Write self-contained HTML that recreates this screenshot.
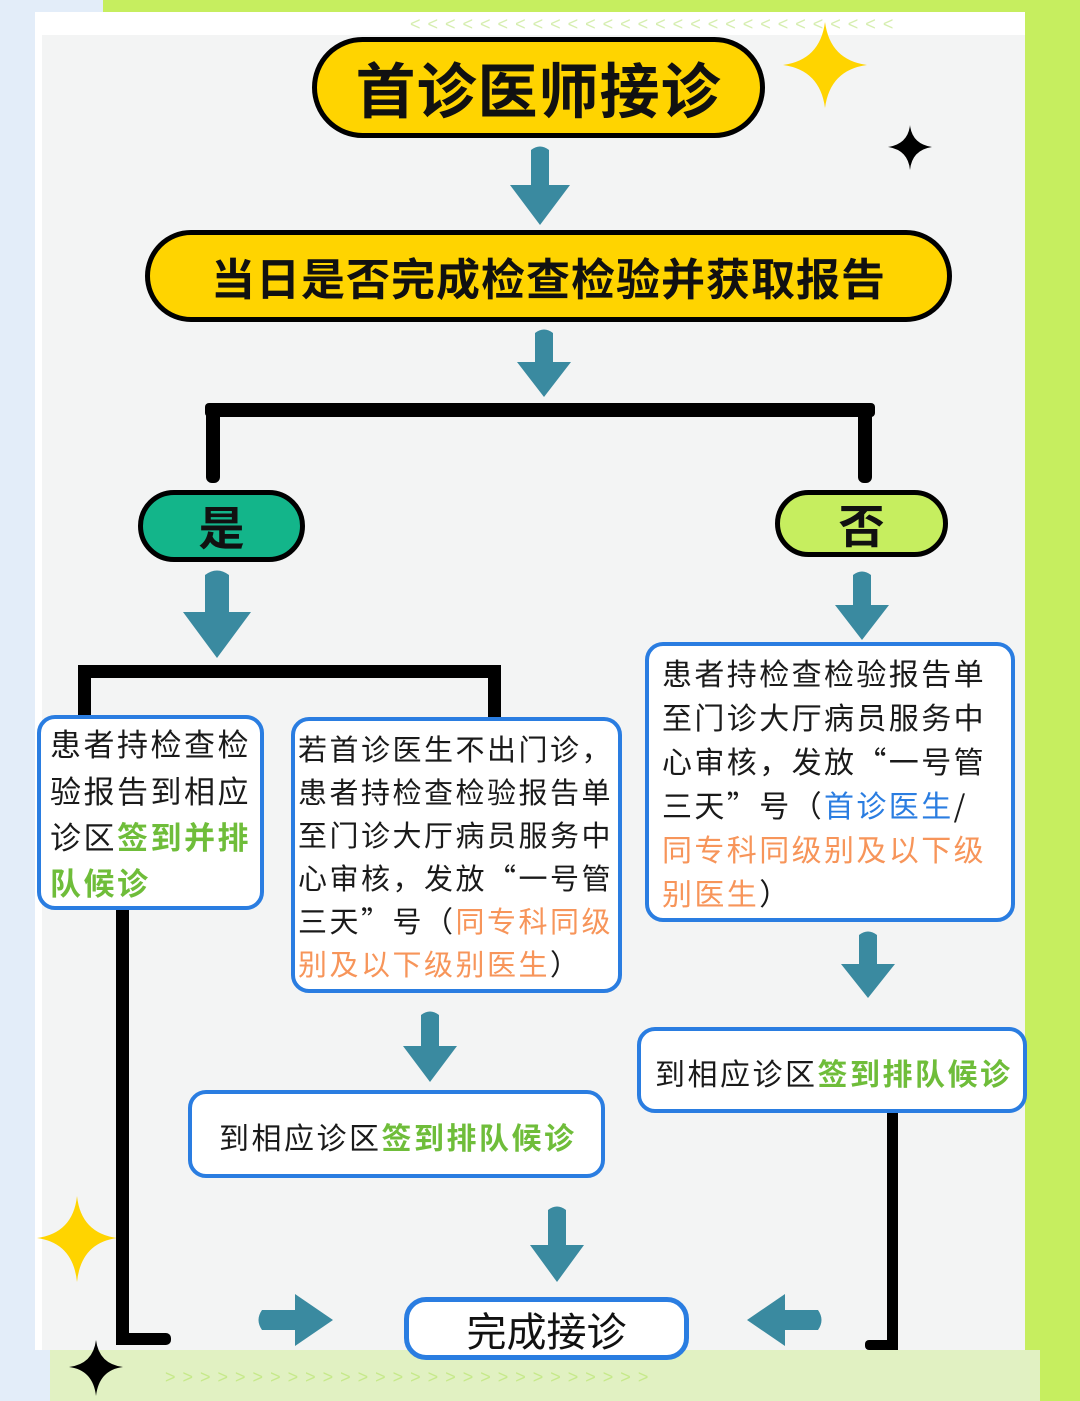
<!DOCTYPE html>
<html><head><meta charset="utf-8"><style>
*{margin:0;padding:0;box-sizing:border-box}
body{width:1080px;height:1401px;position:relative;overflow:hidden;background:#e3edf9;font-family:"Liberation Sans","Noto Sans CJK SC",sans-serif}
.a{position:absolute}
.pill{position:absolute;border:5px solid #000;border-radius:60px;display:flex;align-items:center;justify-content:center;font-weight:bold;color:#111}
.box{position:absolute;background:#fff;border:4px solid #2a7de1;border-radius:18px}
.ln{position:absolute;white-space:nowrap;color:#1a1a1a;font-family:"Noto Sans CJK SC",sans-serif}
.g{color:#6fbd3a;font-weight:bold}
.o{color:#f7955a}
.b{color:#2a7de1}
.k{position:absolute;background:#000}
</style></head><body>
<svg class="a" style="left:0;top:0" width="1080" height="1401">
<polygon points="103,0 1080,0 1080,1401 1040,1401 1040,1350 103,1350" fill="#c6ee5f"/>
<rect x="35" y="12" width="990" height="1338" fill="#fff"/>
<rect x="42" y="35" width="983" height="1315" fill="#f3f4f4"/>
<rect x="50" y="1350" width="990" height="51" fill="#e1f1c2"/>
<text x="410" y="30" font-size="18" fill="#d6eeb0" font-family="Liberation Sans" letter-spacing="7">&lt;&lt;&lt;&lt;&lt;&lt;&lt;&lt;&lt;&lt;&lt;&lt;&lt;&lt;&lt;&lt;&lt;&lt;&lt;&lt;&lt;&lt;&lt;&lt;&lt;&lt;&lt;&lt;</text>
<text x="165" y="1383" font-size="18" fill="#c6e98a" font-family="Liberation Sans" letter-spacing="7">&gt;&gt;&gt;&gt;&gt;&gt;&gt;&gt;&gt;&gt;&gt;&gt;&gt;&gt;&gt;&gt;&gt;&gt;&gt;&gt;&gt;&gt;&gt;&gt;&gt;&gt;&gt;&gt;</text>
<g fill="#3a8aa0">
<path d="M531,150 Q540,143 549,150 L549,185 L570,185 L540,225 L510,185 L531,185Z"/>
<path d="M535,333 Q544,326 553,333 L553,362 L571,362 L544,397 L517,362 L535,362Z"/>
<path d="M205,575 Q217,566 229,575 L229,612 L251,612 L217,658 L183,612 L205,612Z"/>
<path d="M853,575 Q862,568 871,575 L871,605 L889,605 L862,640 L835,605 L853,605Z"/>
<path d="M421,1015 Q430,1008 439,1015 L439,1046 L457,1046 L430,1082 L403,1046 L421,1046Z"/>
<path d="M859,935 Q868,928 877,935 L877,964 L895,964 L868,998 L841,964 L859,964Z"/>
<path d="M548,1210 Q557,1203 566,1210 L566,1245 L584,1245 L557,1282 L530,1245 L548,1245Z"/>
<path d="M262,1310 Q255,1320 262,1330 L295,1330 L295,1346 L333,1320 L295,1294 L295,1310Z"/>
<path d="M818,1310 Q825,1320 818,1330 L785,1330 L785,1346 L747,1320 L785,1294 L785,1310Z"/>
</g>
<path d="M825,22 Q830,60 867,65 Q830,70 825,108 Q820,70 783,65 Q820,60 825,22Z" fill="#ffd400"/>
<path d="M910,125 Q912,144 932,147 Q912,150 910,170 Q908,150 888,147 Q908,144 910,125Z" fill="#000"/>
<path d="M77,1196 Q81,1233 117,1238 Q81,1243 77,1282 Q73,1243 37,1238 Q73,1233 77,1196Z" fill="#ffd400"/>
<path d="M96,1340 Q99,1364 123,1367 Q99,1370 96,1396 Q93,1370 69,1367 Q93,1364 96,1340Z" fill="#000"/>
</svg>

<div class="pill" style="left:312px;top:37px;width:453px;height:101px;background:#ffd400;font-size:60px;letter-spacing:1px">首诊医师接诊</div>
<div class="pill" style="left:145px;top:230px;width:807px;height:92px;background:#ffd400;font-size:44px;letter-spacing:1px">当日是否完成检查检验并获取报告</div>

<div class="k" style="left:205px;top:403px;width:670px;height:14px;border-radius:4px"></div>
<div class="k" style="left:206px;top:403px;width:14px;height:80px;border-radius:6px"></div>
<div class="k" style="left:858px;top:403px;width:14px;height:80px;border-radius:6px"></div>

<div class="pill" style="left:138px;top:490px;width:167px;height:72px;background:#13b58a;font-size:46px">是</div>
<div class="pill" style="left:775px;top:490px;width:173px;height:67px;background:#c6ee5f;font-size:46px">否</div>

<div class="k" style="left:78px;top:665px;width:422px;height:13px;border-radius:4px"></div>
<div class="k" style="left:78px;top:665px;width:13px;height:52px"></div>
<div class="k" style="left:488px;top:665px;width:13px;height:54px"></div>

<div class="k" style="left:116px;top:905px;width:13px;height:440px"></div>
<div class="k" style="left:116px;top:1333px;width:55px;height:12px;border-radius:5px"></div>
<div class="k" style="left:887px;top:1110px;width:11px;height:240px"></div>
<div class="k" style="left:865px;top:1340px;width:33px;height:10px;border-radius:4px"></div>

<div class="box" style="left:37px;top:715px;width:227px;height:195px"></div>
<div style="font-size:31px;letter-spacing:2.5px">
<div class="ln" style="left:50px;top:720px">患者持检查检</div>
<div class="ln" style="left:50px;top:767px">验报告到相应</div>
<div class="ln" style="left:50px;top:813px">诊区<span class="g">签到并排</span></div>
<div class="ln" style="left:50px;top:859px"><span class="g">队候诊</span></div>
</div>

<div class="box" style="left:291px;top:717px;width:331px;height:276px"></div>
<div style="font-size:29px;letter-spacing:2.5px">
<div class="ln" style="left:298px;top:727px">若首诊医生不出门诊，</div>
<div class="ln" style="left:298px;top:770px">患者持检查检验报告单</div>
<div class="ln" style="left:298px;top:813px">至门诊大厅病员服务中</div>
<div class="ln" style="left:298px;top:856px">心审核，发放“一号管</div>
<div class="ln" style="left:298px;top:899px">三天”号（<span class="o">同专科同级</span></div>
<div class="ln" style="left:298px;top:942px"><span class="o">别及以下级别医生</span>）</div>
</div>

<div class="box" style="left:645px;top:642px;width:370px;height:280px"></div>
<div style="font-size:30px;letter-spacing:2.4px">
<div class="ln" style="left:662px;top:650px">患者持检查检验报告单</div>
<div class="ln" style="left:662px;top:694px">至门诊大厅病员服务中</div>
<div class="ln" style="left:662px;top:738px">心审核，发放“一号管</div>
<div class="ln" style="left:662px;top:782px">三天”号（<span class="b">首诊医生</span>/</div>
<div class="ln" style="left:662px;top:826px"><span class="o">同专科同级别及以下级</span></div>
<div class="ln" style="left:662px;top:870px"><span class="o">别医生</span>）</div>
</div>

<div class="box" style="left:188px;top:1090px;width:417px;height:88px"></div>
<div class="ln" style="left:219px;top:1114px;font-size:30px;letter-spacing:2.5px">到相应诊区<span class="g">签到排队候诊</span></div>
<div class="box" style="left:637px;top:1027px;width:390px;height:86px"></div>
<div class="ln" style="left:655px;top:1050px;font-size:30px;letter-spacing:2.5px">到相应诊区<span class="g">签到排队候诊</span></div>

<div class="box" style="left:404px;top:1297px;width:285px;height:63px;border-width:5px;border-radius:22px;display:flex;align-items:center;justify-content:center;font-size:40px;color:#111">完成接诊</div>
</body></html>
